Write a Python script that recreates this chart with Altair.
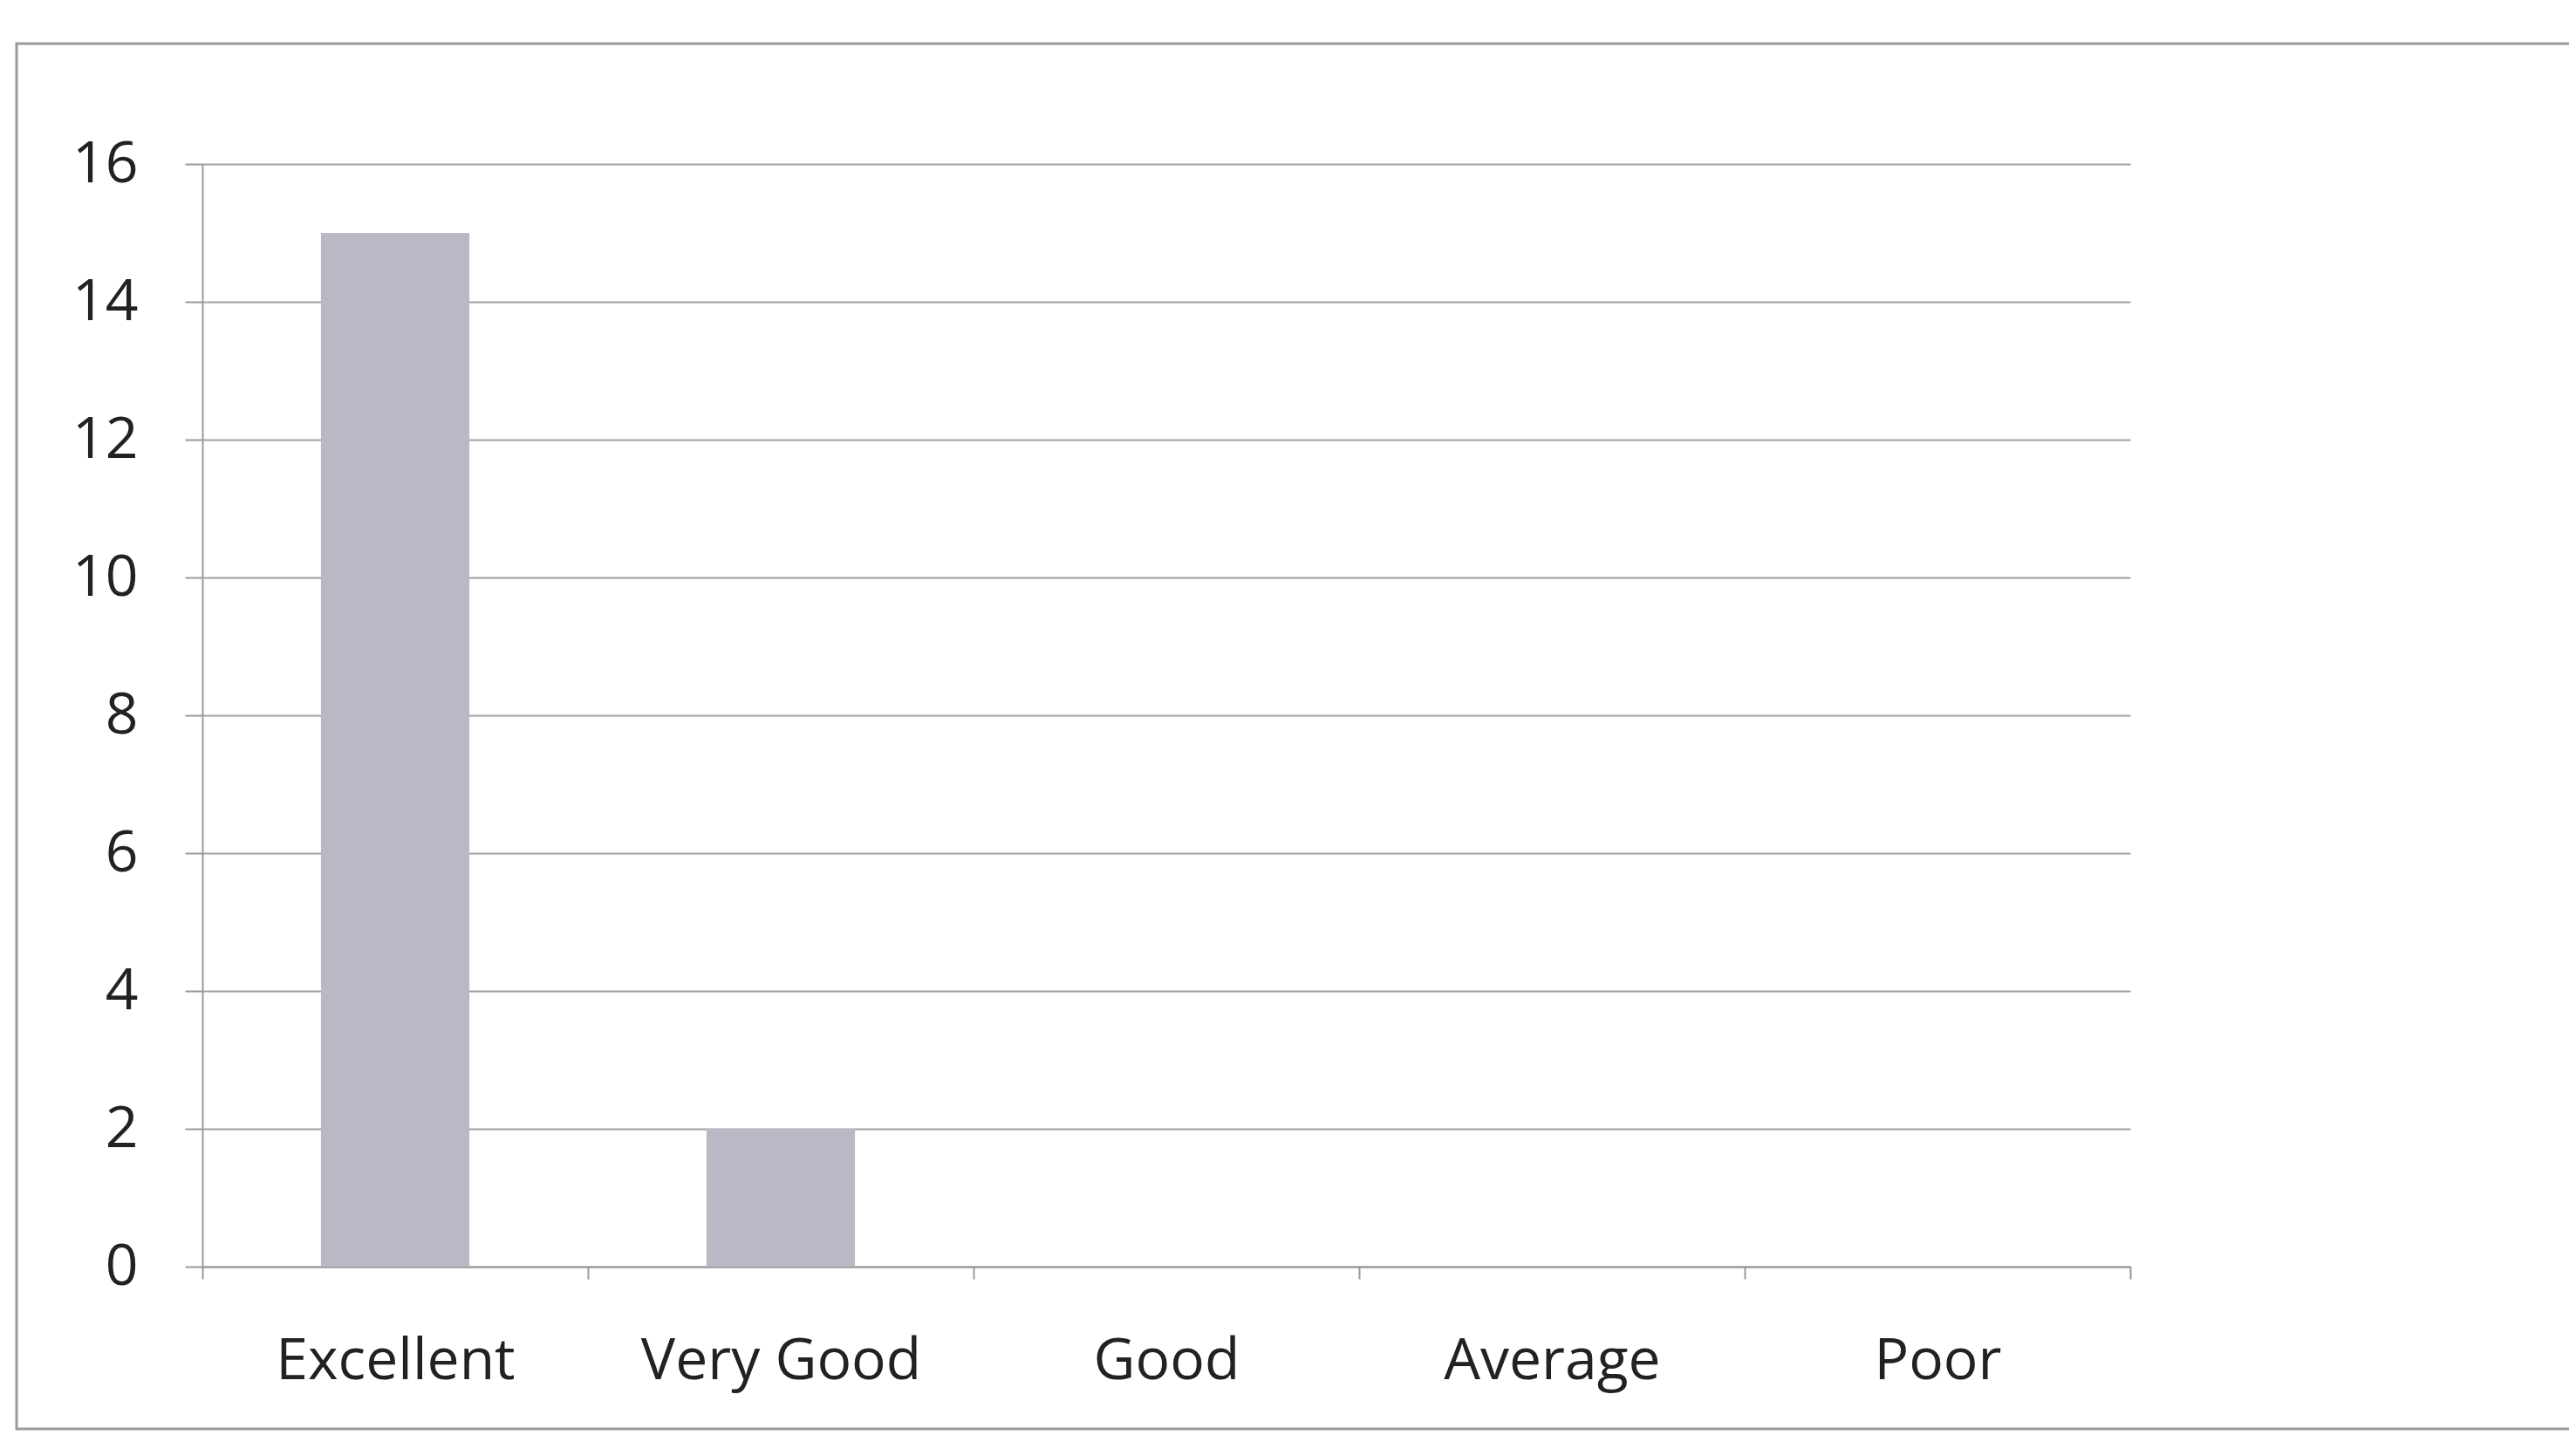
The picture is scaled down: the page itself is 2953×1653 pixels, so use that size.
import altair as alt
import pandas as pd

categories = ["Excellent", "Very Good", "Good", "Average", "Poor"]
values = [15, 2, 0, 0, 0]
y_ticks = [0, 2, 4, 6, 8, 10, 12, 14, 16]

df = pd.DataFrame({"category": categories, "count": values})

W, H = 2210, 1264

bars = alt.Chart(df).mark_bar(color="#bab8c4", width=alt.RelativeBandSize(0.385)).encode(
    x=alt.X("category:N", sort=categories, title=None,
            scale=alt.Scale(paddingInner=0, paddingOuter=0),
            axis=alt.Axis(labelAngle=0, labelFontSize=66, labelFont="Open Sans",
                          labelColor="#222222", labelPadding=62, labelLimit=0,
                          tickBand="extent", tickSize=14, tickColor="#999999",
                          tickWidth=2, domainColor="#999999", domainWidth=2,
                          grid=False)),
    y=alt.Y("count:Q", title=None,
            scale=alt.Scale(domain=[0, 16], nice=False),
            axis=alt.Axis(values=y_ticks, labelFontSize=66, labelFont="Open Sans",
                          labelColor="#222222", labelPadding=54, tickSize=20,
                          tickColor="#999999", tickWidth=2, domainColor="#999999",
                          domainWidth=2, grid=True, gridColor="#a0a0a0", gridWidth=2)),
)

border = alt.Chart(pd.DataFrame({"a": [0]})).mark_rect(
    fill=None, stroke="#9a9a9a", strokeWidth=3
).encode(
    x=alt.value(-213), x2=alt.value(2760),
    y=alt.value(-138), y2=alt.value(1450),
)

chart = alt.layer(border, bars).properties(
    width=W, height=H,
    background="white",
    autosize=alt.AutoSizeParams(type="none"),
    padding={"left": 224, "top": 180, "right": 503, "bottom": 193},
).configure_view(stroke=None, strokeWidth=0)

chart.save("out.html", embed_options={"renderer": "svg", "actions": False})
